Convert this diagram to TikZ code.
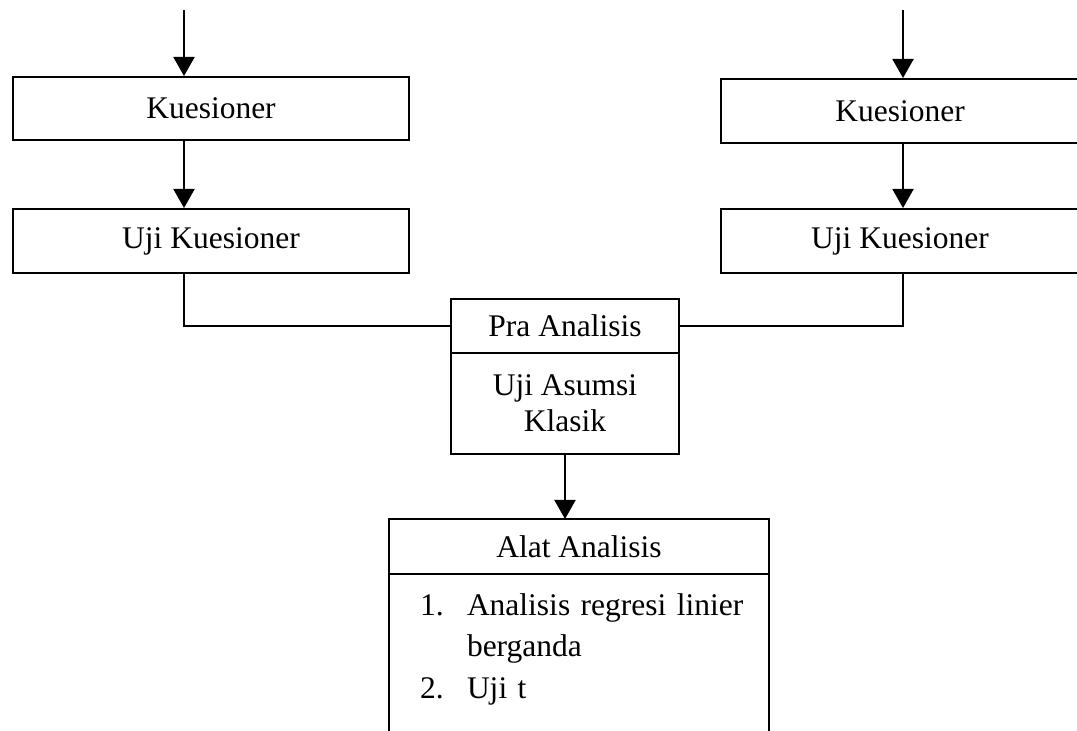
\documentclass[tikz,border=0pt]{standalone}
\usepackage{fontspec}
\setmainfont{Liberation Serif}
\usetikzlibrary{arrows.meta}

\tikzset{
  box/.style={draw, line width=1pt, rectangle, inner sep=0pt,
    font=\fontsize{15.75}{18}\selectfont},
  stacked/.style={box, outer sep=0pt},
  flow/.style={line width=1pt, -{Triangle[length=9.5pt,width=10.5pt]}},
  link/.style={line width=1pt},
}

\begin{document}
\begin{tikzpicture}[x=0.5pt, y=-0.5pt]
\clip[use as bounding box] (0,0) rectangle (1077,731);

% left column
\coordinate (inL) at (184,10);
\node[box, minimum width=198pt, minimum height=31.5pt] (kuesL) at (211,108.5) {Kuesioner};
\node[box, minimum width=198pt, minimum height=32pt] (ujiL) at (211,241) {Uji Kuesioner};

% right column
\coordinate (inR) at (903,10);
\node[box, minimum width=179pt, minimum height=32pt] (kuesR) at (900,111) {Kuesioner};
\node[box, minimum width=179pt, minimum height=32pt] (ujiR) at (900,241) {Uji Kuesioner};

% pra analisis
\node[stacked, minimum width=114pt, minimum height=27pt] (pra) at (565,326) {Pra Analisis};
\node[stacked, anchor=north, minimum width=114pt, minimum height=50.5pt, align=center]
  (asumsi) at (pra.south) {Uji Asumsi\\Klasik};

% alat analisis
\node[stacked, minimum width=190pt, minimum height=27.5pt] (alat) at (579,546.5) {Alat Analisis};
\node[stacked, anchor=north, minimum width=190pt, text width=159pt, align=left,
  inner xsep=15.5pt, inner ysep=6pt, text depth=80pt,
  font=\fontsize{15.75}{20.75}\selectfont] (alatisi) at (alat.south)
  {\noindent\begin{tabular}[t]{@{}p{23.5pt}@{}l@{}}
   1. & Analisis regresi linier\\
      & berganda\\
   2. & Uji t
   \end{tabular}};

% arrows and lines
\draw[flow] (inL) -- (inL |- kuesL.north);
\draw[flow] (inL |- kuesL.south) -- (inL |- ujiL.north);
\draw[flow] (inR) -- (inR |- kuesR.north);
\draw[flow] (inR |- kuesR.south) -- (inR |- ujiR.north);
\draw[link] (inL |- ujiL.south) |- (pra.west);
\draw[link] (inR |- ujiR.south) |- (pra.east);
\draw[flow] (asumsi.south) -- (asumsi.south |- alat.north);

\end{tikzpicture}
\end{document}
